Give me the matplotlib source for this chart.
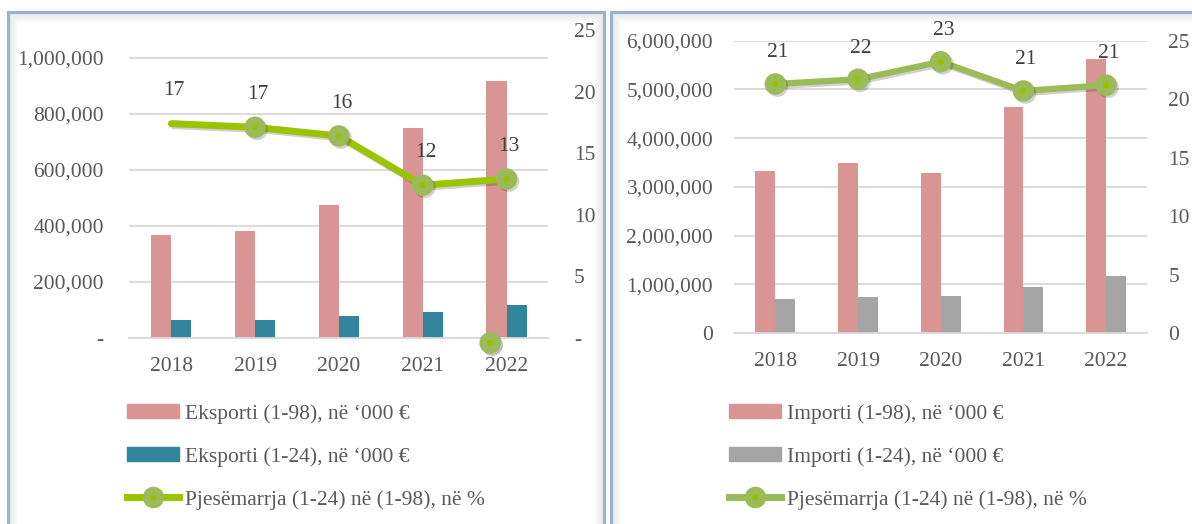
# Eksporti / Importi e ndermarrjeve (1-98) dhe (1-24), 2018-2022

import matplotlib.pyplot as plt
import matplotlib.patheffects as pe
from matplotlib.patches import Rectangle, Patch
from matplotlib.lines import Line2D
from matplotlib.ticker import FuncFormatter

# Te dhenat
years = ['2018', '2019', '2020', '2021', '2022']
eksporti_98 = [368000, 382000, 475000, 750000, 918000]
eksporti_24 = [64000, 66000, 78000, 92000, 118000]
pjesa_eks = [17.4, 17.1, 16.4, 12.4, 12.9]
pjesa_eks_lbl = ['17', '17', '16', '12', '13']
marker_i_humbur = (3.805, -0.4)  # pika e vetmuar poshte boshtit te 2022

importi_98 = [3330000, 3480000, 3280000, 4640000, 5630000]
importi_24 = [700000, 745000, 760000, 950000, 1180000]
pjesa_imp = [21.3, 21.7, 23.2, 20.7, 21.2]
pjesa_imp_lbl = ['21', '22', '23', '21', '21']

W, H = 1192, 524
plt.rcParams['font.family'] = ['Liberation Serif', 'DejaVu Serif']
fig = plt.figure(figsize=(W / 100, H / 100), dpi=100)

txt = '#595959'
fs = 15.5
pink = '#D99594'
teal = '#31859C'
grey = '#A5A5A5'
grid = '#D9D9D9'
mk = dict(marker='o', ms=10, mfc='#9AC000', mec='#9BBB59', mew=5.5)


def px(x0, y_top, w, h):
    # pixel -> figure fraction
    return [x0 / W, 1 - (y_top + h) / H, w / W, h / H]


def frame(x0, x1, y0, y1):
    # hija e brendshme + kornize blu
    for i in range(10):
        a = 0.13 * (1 - i / 10)
        fig.patches.append(Rectangle((x0 + i, y0 + i), x1 - x0 - 2 * i, y1 - y0 - 2 * i,
                                     transform=None, fill=False, lw=1,
                                     ec=(0.45, 0.45, 0.45, a)))
    fig.patches.append(Rectangle((x0, y0), x1 - x0, y1 - y0, transform=None,
                                 fill=False, lw=2.2, ec='#95B3D7'))


frame(8, 604, -20, H - 12)
frame(611, 1230, -20, H - 12)


def panel(rect, b1, b2, c2, pct, lbls, ymax, yticks, zero, linec, every, ypad, lw, dy):
    ax = fig.add_axes(rect)
    x = range(len(years))
    bw = 0.24
    ax.bar([i - bw / 2 for i in x], b1, bw, color=pink, zorder=2)
    ax.bar([i + bw / 2 for i in x], b2, bw, color=c2, zorder=2)
    ax.set_ylim(0, ymax)
    ax.set_xlim(-0.5, 4.5)
    ax.set_yticks(yticks)
    ax.yaxis.set_major_formatter(FuncFormatter(
        lambda v, p: zero if v == 0 else f'{v:,.0f}'))
    ax.set_xticks(list(x))
    ax.set_xticklabels(years)
    ax.grid(axis='y', color=grid, lw=1.3, zorder=0)
    for s in ['top', 'left', 'right']:
        ax.spines[s].set_visible(False)
    ax.spines['bottom'].set_color(grid)
    ax.spines['bottom'].set_linewidth(1.3)
    ax.tick_params(length=0, labelsize=fs, colors=txt)
    ax.tick_params(axis='x', pad=13.5)
    ax.tick_params(axis='y', pad=ypad)

    ax2 = ax.twinx()
    ax2.set_ylim(0, 25)
    ax2.set_yticks([0, 5, 10, 15, 20, 25])
    ax2.yaxis.set_major_formatter(FuncFormatter(
        lambda v, p: zero if v == 0 else f'{v:.0f}'))
    for s in ax2.spines.values():
        s.set_visible(False)
    ax2.tick_params(length=0, labelsize=fs, colors=txt, pad=ypad)
    shadow = [pe.SimpleLineShadow(offset=(1.5, -1.5), alpha=0.18), pe.Normal()]
    ax2.plot(list(x), pct, color=linec, lw=lw, solid_capstyle='round',
             markevery=every, path_effects=shadow, zorder=3, clip_on=False, **mk)
    for i, (v, l) in enumerate(zip(pct, lbls)):
        ax2.annotate(l, (i, v), xytext=(2, dy), textcoords='offset points',
                     ha='center', va='center', fontsize=fs, color='#404040')
    return ax, ax2


axL, axL2 = panel(px(129.4, 30, 419, 308), eksporti_98, eksporti_24, teal,
                  pjesa_eks, pjesa_eks_lbl, 1100000,
                  [0, 200000, 400000, 600000, 800000, 1000000], '-', '#9BC400',
                  [1, 2, 3, 4], 18.5, 5, 23.5)
axL2.plot([marker_i_humbur[0]], [marker_i_humbur[1]], clip_on=False, zorder=4,
          path_effects=[pe.SimpleLineShadow(offset=(1.5, -1.5), alpha=0.25), pe.Normal()],
          **mk)

axR, axR2 = panel(px(734, 40.7, 413.4, 292.3), importi_98, importi_24, grey,
                  pjesa_imp, pjesa_imp_lbl, 6000000,
                  [0, 1000000, 2000000, 3000000, 4000000, 5000000, 6000000], '0',
                  '#9BBB59', None, 15, 4.5, 22.5)


def legenda(x0, names, c2, linec):
    h = [Patch(color=pink), Patch(color=c2),
         Line2D([], [], color=linec, lw=5, **mk)]
    fig.legend(h, names, loc='upper left', bbox_to_anchor=(x0 / W, 1 - 404 / H),
               frameon=False, fontsize=fs, labelcolor=txt, handlelength=2.4,
               handleheight=0.6, handletextpad=0.3, labelspacing=1.08,
               borderpad=0, borderaxespad=0)


legenda(127, ['Eksporti (1-98), në ‘000 €', 'Eksporti (1-24), në ‘000 €',
              'Pjesëmarrja (1-24) në (1-98), në %'], teal, '#9BC400')
legenda(729, ['Importi (1-98), në ‘000 €', 'Importi (1-24), në ‘000 €',
              'Pjesëmarrja (1-24) në (1-98), në %'], grey, '#9BBB59')

fig.savefig('out.png', dpi=100)
